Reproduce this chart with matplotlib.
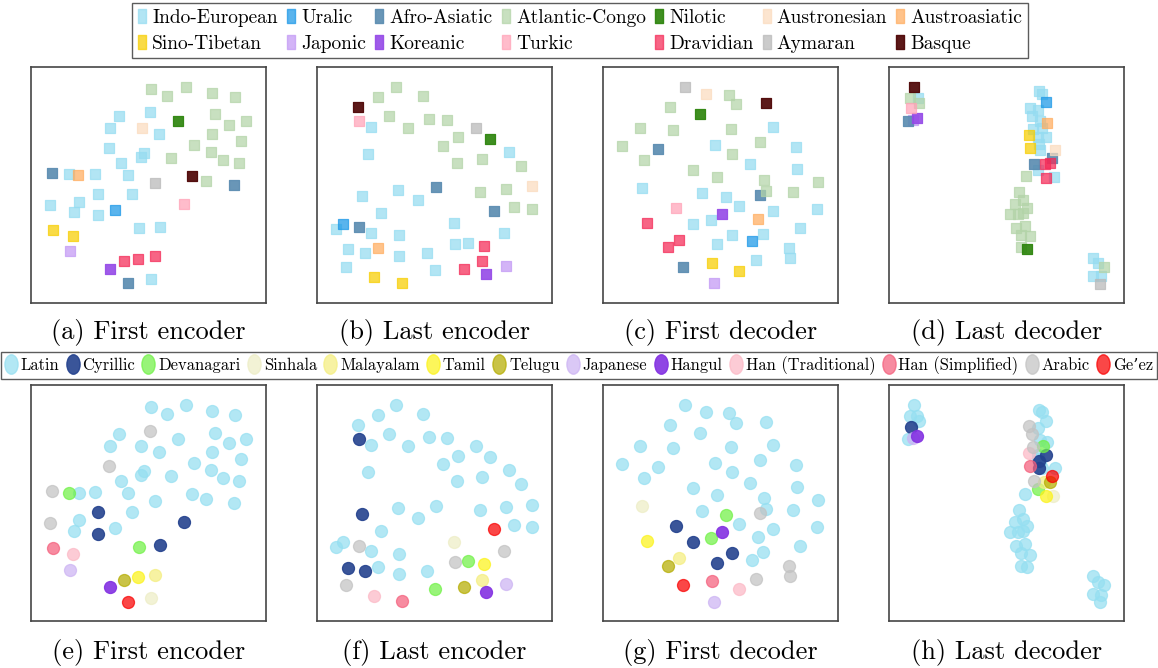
import numpy as np
import matplotlib
matplotlib.use('Agg')
from matplotlib import pyplot as plt
from matplotlib.lines import Line2D
from matplotlib.path import Path
from matplotlib.transforms import Affine2D

plt.rcParams['font.family'] = ['cmr10', 'DejaVu Serif']
plt.rcParams['axes.formatter.use_mathtext'] = True

# language families (top row), listed column by column as in the legend
families = ['Indo-European', 'Sino-Tibetan', 'Uralic', 'Japonic', 'Afro-Asiatic', 'Koreanic',
            'Atlantic-Congo', 'Turkic', 'Nilotic', 'Dravidian', 'Austronesian', 'Aymaran',
            'Austroasiatic', 'Basque']
family_colors = {'Indo-European': '#b3e6f5', 'Uralic': '#5ab4ee', 'Afro-Asiatic': '#6a97b8',
                 'Atlantic-Congo': '#c8e0c0', 'Nilotic': '#3f8f22', 'Austronesian': '#fce5d0',
                 'Austroasiatic': '#ffc48c', 'Sino-Tibetan': '#f9dc1a', 'Japonic': '#d3b5f8',
                 'Koreanic': '#a05be9', 'Turkic': '#ffbccb', 'Dravidian': '#f76585',
                 'Aymaran': '#cccccc', 'Basque': '#5c1508'}

scripts = ['Latin', 'Cyrillic', 'Devanagari', 'Sinhala', 'Malayalam', 'Tamil', 'Telugu',
           'Japanese', 'Hangul', 'Han (Traditional)', 'Han (Simplified)', 'Arabic', "Ge\u2019ez"]
script_colors = {'Latin': '#b3e8f5', 'Cyrillic': '#3a5599', 'Devanagari': '#98f57a',
                 'Sinhala': '#f2f2d5', 'Malayalam': '#f7f3a3', 'Tamil': '#fdf65a',
                 'Telugu': '#c9c33a', 'Japanese': '#dac8f6', 'Hangul': '#8f46e5',
                 'Han (Traditional)': '#fdccd5', 'Han (Simplified)': '#f78ba0',
                 'Arabic': '#d3d3d3', "Ge\u2019ez": '#fb3e3e'}

# t-SNE coordinates (arbitrary units, y grows downward)
a_pts = {
    'Atlantic-Congo': [(369, 74), (417, 97), (473, 69), (551, 86), (622, 98), (560, 151), (603, 184),
                       (653, 170), (553, 209), (638, 231), (498, 243), (548, 263), (584, 287),
                       (632, 296), (430, 281), (533, 350)],
    'Nilotic': [(449, 171)],
    'Indo-European': [(273, 155), (366, 144), (245, 192), (392, 211), (242, 251), (347, 268),
                      (339, 278), (279, 297), (299, 333), (124, 331), (200, 329), (209, 390),
                      (313, 391), (152, 413), (65, 422), (139, 444), (210, 452), (333, 492),
                      (395, 488), (369, 645)],
    'Austronesian': [(341, 191)],
    'Afro-Asiatic': [(73, 326), (619, 362), (301, 657)],
    'Austroasiatic': [(151, 332)],
    'Aymaran': [(382, 357)],
    'Basque': [(492, 336)],
    'Turkic': [(467, 419)],
    'Uralic': [(261, 436)],
    'Sino-Tibetan': [(74, 496), (134, 515)],
    'Japonic': [(125, 561)],
    'Koreanic': [(246, 613)],
    'Dravidian': [(288, 591), (331, 584), (380, 576)],
}
b_pts = {
    'Atlantic-Congo': [(246, 69), (192, 98), (326, 96), (225, 157), (282, 191), (344, 164), (398, 167),
                       (433, 219), (387, 246), (429, 298), (504, 284), (622, 305), (499, 384),
                       (576, 376), (601, 428), (653, 435)],
    'Basque': [(132, 128)],
    'Turkic': [(135, 170)],
    'Indo-European': [(170, 188), (161, 270), (586, 265), (145, 397), (252, 377), (312, 407),
                      (200, 445), (65, 494), (171, 506), (254, 513), (101, 555), (152, 566),
                      (254, 575), (339, 566), (96, 607), (363, 618), (420, 477), (422, 538),
                      (462, 536), (571, 506)],
    'Aymaran': [(487, 191)],
    'Nilotic': [(528, 224)],
    'Afro-Asiatic': [(366, 370), (540, 439), (135, 489)],
    'Austronesian': [(653, 367)],
    'Uralic': [(86, 478)],
    'Austroasiatic': [(191, 552)],
    'Sino-Tibetan': [(180, 639), (264, 657)],
    'Dravidian': [(511, 544), (504, 591), (450, 614)],
    'Koreanic': [(517, 628)],
    'Japonic': [(577, 604)],
}
c_pts = {
    'Aymaran': [(255, 69)],
    'Austronesian': [(319, 89)],
    'Atlantic-Congo': [(388, 92), (407, 121), (211, 130), (120, 191), (219, 199), (394, 195), (65, 245),
                       (131, 287), (480, 233), (396, 269), (280, 317), (352, 340), (491, 347),
                       (497, 380), (578, 383), (654, 354)],
    'Basque': [(499, 118)],
    'Nilotic': [(301, 151)],
    'Indo-European': [(520, 188), (345, 242), (587, 248), (449, 301), (592, 314), (125, 371),
                      (305, 386), (377, 398), (416, 427), (519, 441), (651, 434), (278, 479),
                      (332, 467), (397, 512), (488, 509), (352, 539), (601, 491), (566, 551),
                      (569, 580), (467, 588)],
    'Afro-Asiatic': [(173, 254), (480, 393), (249, 608)],
    'Turkic': [(229, 431)],
    'Koreanic': [(366, 450)],
    'Austroasiatic': [(475, 464)],
    'Dravidian': [(140, 476), (237, 527), (205, 549)],
    'Uralic': [(456, 531)],
    'Sino-Tibetan': [(335, 596), (418, 621)],
    'Japonic': [(342, 657)],
}
d_pts = {
    'Atlantic-Congo': [(72, 101), (98, 116), (419, 336), (398, 383), (410, 408), (386, 419),
                       (424, 433), (372, 450), (395, 450), (410, 446), (390, 491), (418, 485),
                       (404, 512), (431, 515), (406, 549), (654, 607)],
    'Basque': [(85, 69)],
    'Turkic': [(75, 133)],
    'Afro-Asiatic': [(66, 172), (498, 281), (444, 299)],
    'Japonic': [(80, 169)],
    'Koreanic': [(93, 162)],
    'Indo-European': [(95, 103), (458, 82), (469, 90), (431, 133), (455, 138), (437, 157), (461, 172),
                      (440, 194), (468, 193), (481, 218), (455, 220), (460, 240), (462, 258),
                      (455, 318), (503, 340), (620, 582), (637, 597), (622, 634), (645, 636)],
    'Uralic': [(479, 114)],
    'Austroasiatic': [(482, 178)],
    'Sino-Tibetan': [(428, 213), (433, 251)],
    'Austronesian': [(507, 259)],
    'Dravidian': [(478, 299), (491, 297), (480, 342)],
    'Nilotic': [(424, 553)],
    'Aymaran': [(641, 660)],
}

e_pts = {
    'Latin': [(369, 74), (417, 97), (473, 69), (551, 86), (622, 99), (273, 155), (340, 192), (392, 211),
              (449, 172), (560, 152), (603, 184), (653, 170), (552, 210), (638, 232), (245, 193),
              (498, 244), (548, 263), (584, 287), (632, 297), (338, 278), (348, 268), (430, 282),
              (279, 298), (299, 334), (152, 332), (200, 331), (382, 358), (491, 337), (533, 350),
              (618, 363), (313, 391), (152, 414), (139, 445), (261, 436)],
    'Arabic': [(367, 146), (242, 252), (73, 326), (65, 423)],
    'Devanagari': [(124, 332), (333, 493)],
    'Cyrillic': [(209, 391), (210, 454), (467, 420), (395, 489)],
    'Han (Simplified)': [(74, 497)],
    'Han (Traditional)': [(134, 516)],
    'Japanese': [(125, 562)],
    'Hangul': [(246, 613)],
    'Telugu': [(288, 592)],
    'Tamil': [(331, 585)],
    'Malayalam': [(380, 577)],
    "Ge\u2019ez": [(301, 658)],
    'Sinhala': [(369, 646)],
}
f_pts = {
    'Latin': [(246, 69), (192, 98), (326, 96), (131, 129), (225, 157), (171, 190), (282, 191), (344, 165),
              (398, 168), (487, 192), (433, 221), (528, 224), (387, 247), (161, 271), (586, 265),
              (429, 298), (504, 284), (622, 305), (252, 377), (366, 371), (312, 407), (499, 385),
              (576, 376), (653, 368), (200, 446), (601, 429), (653, 435), (86, 480), (65, 494),
              (171, 507), (254, 515), (191, 553), (254, 575), (339, 567)],
    'Cyrillic': [(135, 170), (145, 397), (101, 557), (152, 567)],
    "Ge\u2019ez": [(540, 440)],
    'Sinhala': [(420, 478)],
    'Arabic': [(134, 490), (422, 539), (571, 506), (96, 608)],
    'Devanagari': [(462, 537), (363, 619)],
    'Tamil': [(511, 545)],
    'Malayalam': [(504, 592)],
    'Telugu': [(450, 615)],
    'Hangul': [(517, 629)],
    'Japanese': [(577, 604)],
    'Han (Traditional)': [(180, 640)],
    'Han (Simplified)': [(264, 657)],
}
g_pts = {
    'Latin': [(255, 69), (319, 90), (388, 92), (407, 122), (499, 119), (211, 130), (301, 152), (120, 192),
              (220, 199), (394, 196), (520, 188), (65, 246), (173, 256), (131, 288), (345, 243),
              (480, 235), (396, 269), (587, 250), (449, 302), (280, 317), (352, 340), (592, 314),
              (491, 348), (497, 382), (578, 383), (654, 354), (305, 387), (416, 427), (519, 441),
              (651, 434), (475, 464), (601, 492), (488, 509), (456, 532)],
    'Sinhala': [(125, 373)],
    'Arabic': [(480, 394), (567, 551), (569, 580), (467, 589)],
    'Devanagari': [(377, 399), (332, 468)],
    'Cyrillic': [(229, 432), (278, 480), (397, 513), (352, 541)],
    'Hangul': [(366, 450)],
    'Tamil': [(140, 477)],
    'Malayalam': [(237, 527)],
    'Telugu': [(205, 550)],
    "Ge\u2019ez": [(249, 608)],
    'Han (Simplified)': [(335, 597)],
    'Han (Traditional)': [(418, 621)],
    'Japanese': [(342, 658)],
}
h_pts = {
    'Latin': [(85, 70), (72, 102), (92, 103), (98, 118), (66, 172), (458, 84), (469, 90), (480, 116),
              (456, 139), (461, 173), (482, 179), (455, 220), (455, 230), (462, 240), (468, 258),
              (507, 259), (418, 337), (398, 385), (410, 410), (386, 420), (424, 433), (372, 450),
              (395, 450), (410, 447), (390, 492), (418, 486), (404, 513), (431, 517), (406, 550),
              (424, 555), (620, 582), (637, 598), (655, 608), (622, 635), (645, 638), (642, 660)],
    'Arabic': [(430, 133), (437, 157), (440, 196), (443, 298)],
    'Devanagari': [(471, 191), (457, 320)],
    'Cyrillic': [(75, 135), (481, 219), (458, 237), (460, 258)],
    'Han (Traditional)': [(428, 213)],
    'Han (Simplified)': [(433, 251)],
    'Hangul': [(93, 163)],
    'Japanese': [(80, 169)],
    "Ge\u2019ez": [(498, 282)],
    'Malayalam': [(474, 300)],
    'Telugu': [(491, 300)],
    'Tamil': [(480, 343)],
    'Sinhala': [(501, 342)],
}

top_panels = [a_pts, b_pts, c_pts, d_pts]
bottom_panels = [e_pts, f_pts, g_pts, h_pts]
captions = ['(a) First encoder', '(b) Last encoder', '(c) First decoder', '(d) Last decoder',
            '(e) First encoder', '(f) Last encoder', '(g) First decoder', '(h) Last decoder']

DARK = {'Basque', 'Cyrillic', 'Nilotic', 'Koreanic', 'Hangul', 'Afro-Asiatic'}


def base_color(hexcol, alpha):
    '''colour that gives hexcol once blended on white with alpha'''
    rgb = np.array(matplotlib.colors.to_rgb(hexcol))
    return tuple(np.clip((rgb - (1 - alpha)) / alpha, 0, 1))


def draw_panel(ax, pts, colors, order, marker, size):
    for name in order:
        if name not in pts:
            continue
        xy = np.array(pts[name])
        al = 0.9 if name in DARK else 0.72
        col = base_color(colors[name], al)
        ax.scatter(xy[:, 0], xy[:, 1], s=size, marker=marker, color=col, alpha=al,
                   edgecolors=[col], linewidths=0.9)
    ax.set_xlim(8, 713)
    ax.set_ylim(717, 10)
    ax.set_xticks([])
    ax.set_yticks([])
    for sp in ax.spines.values():
        sp.set_color('#454545')
        sp.set_linewidth(1.2)


W, H = 1158, 668
fig = plt.figure(figsize=(W / 100, H / 100), dpi=100)

lefts = [30.7 + i * 286 for i in range(4)]
pw, ph = 235, 236
row_tops = [67.3, 385.3]
cap_y = [333, 652]

for r, panels in enumerate([top_panels, bottom_panels]):
    for i, pts in enumerate(panels):
        ax = fig.add_axes([lefts[i] / W, 1 - (row_tops[r] + ph) / H, pw / W, ph / H])
        if r == 0:
            draw_panel(ax, pts, family_colors, families, 's', 62)
        else:
            draw_panel(ax, pts, script_colors, scripts, 'o', 75)
        fig.text((lefts[i] + pw / 2) / W, 1 - cap_y[r] / H, captions[r * 4 + i],
                 ha='center', va='center', fontsize=19)

# legend handles: tall rectangles / tall ellipses
rect_marker = Path.unit_rectangle().transformed(Affine2D().translate(-0.5, -0.5).scale(0.55, 1.0))
ell_marker = Path.unit_circle().transformed(Affine2D().scale(0.68, 1.0))

h1 = []
for name in families:
    al = 0.9 if name in DARK else 0.72
    col = base_color(family_colors[name], al)
    h1.append(Line2D([], [], linestyle='none', marker=rect_marker, markersize=10,
                     markerfacecolor=col, markeredgecolor=col, alpha=al, label=name))
leg1 = fig.legend(handles=h1, loc='upper center', bbox_to_anchor=(0.501, 1 - 3 / H), ncol=7,
                  fontsize=14.0, frameon=True, fancybox=False, edgecolor='#333333',
                  handlelength=0.45, handletextpad=0.3, columnspacing=0.45, labelspacing=0.4,
                  borderpad=0.3, borderaxespad=0)
leg1.get_frame().set_linewidth(1.0)

h2 = []
for name in scripts:
    al = 0.9 if name in DARK else 0.72
    col = base_color(script_colors[name], al)
    h2.append(Line2D([], [], linestyle='none', marker=ell_marker, markersize=14,
                     markerfacecolor=col, markeredgecolor=col, alpha=al, label=name))
leg2 = fig.legend(handles=h2, loc='upper center', bbox_to_anchor=(0.5, 1 - 352 / H), ncol=13,
                  fontsize=11.9, frameon=True, fancybox=False, edgecolor='#333333',
                  handlelength=0.7, handletextpad=0.25, columnspacing=0.45,
                  borderpad=0.25, borderaxespad=0)
leg2.get_frame().set_linewidth(1.0)

fig.savefig('out.png', dpi=100)
